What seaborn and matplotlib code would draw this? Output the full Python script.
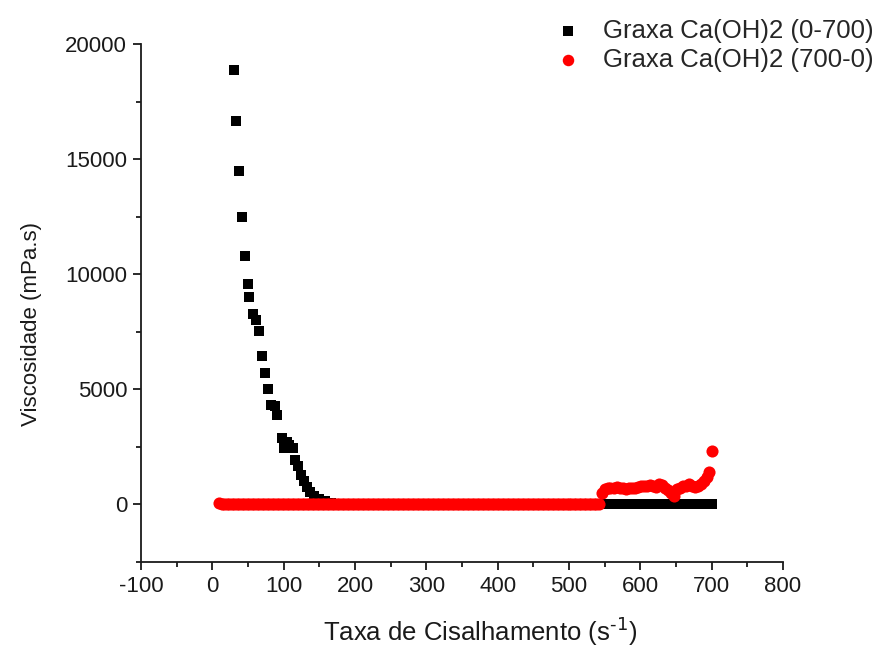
import matplotlib
matplotlib.use("Agg")
import matplotlib.pyplot as plt
import seaborn as sns
import pandas as pd
from matplotlib.ticker import MultipleLocator

# ---- data: Graxa Ca(OH)2 (0-700), upward ramp ----
up_x_steep = [30.4, 33.2, 37.4, 41.6, 45.8, 50.0, 52.0, 56.6, 61.3, 65.9, 70.1, 73.9,
              77.7, 81.9, 87.9, 91.1, 97.3, 101.0, 104.3, 107.5, 112.5, 116.0, 120.0,
              124.3, 128.6, 132.8, 137.0, 142.6, 149.6, 158.0, 166.5]
up_y_steep = [18870, 16660, 14490, 12490, 10800, 9590, 9020, 8290, 7990, 7520, 6430, 5730,
              5030, 4340, 4260, 3900, 2900, 2450, 2700, 2600, 2470, 1950, 1650,
              1300, 1000, 740, 520, 350, 220, 130, 80]
up_x_flat = [175, 182, 189, 196, 203, 210, 217, 224, 231, 238, 245, 252, 259, 266, 273,
             280, 287, 294, 301, 308, 315, 322, 329, 336, 343, 350, 357, 364, 371, 378,
             385, 392, 399, 406, 413, 420, 427, 434, 441, 448, 455, 462, 469, 476, 483,
             490, 497, 504, 511, 518, 525, 532, 539, 546, 553, 560, 567, 574, 581, 588,
             595, 602, 609, 616, 623, 630, 637, 644, 651, 658, 665, 672, 679, 686, 693, 700]
up_y_flat = [40, 30, 25, 22, 20, 18, 16, 15, 14, 14, 13, 13, 12, 12, 12,
             12, 11, 11, 11, 11, 11, 10, 10, 10, 10, 10, 10, 10, 10, 10,
             10, 10, 10, 10, 10, 10, 10, 10, 10, 10, 10, 10, 10, 10, 10,
             10, 10, 10, 10, 10, 10, 10, 10, 10, 10, 10, 10, 10, 10, 10,
             10, 10, 10, 10, 10, 10, 10, 10, 10, 10, 10, 10, 10, 10, 10, 10]

# ---- data: Graxa Ca(OH)2 (700-0), downward ramp ----
down_x_high = [700, 696, 693, 689, 685, 681, 677, 672, 668, 664, 660, 656, 651, 647,
               643, 639, 635, 630, 626, 622, 618, 614, 609, 605, 601, 597, 592, 588,
               584, 580, 575, 571, 567, 563, 558, 554, 550, 546]
down_y_high = [2300, 1400, 1200, 1000, 880, 800, 760, 820, 870, 780, 800, 720, 650, 350,
               500, 640, 700, 850, 900, 760, 800, 860, 820, 780, 800, 760, 720, 730,
               700, 650, 700, 720, 750, 700, 720, 700, 650, 500]
down_x_low = [542, 538.5, 535, 531.5, 528, 524.5, 521, 517.5, 514, 510.5, 507, 503.5, 500, 496.5, 493, 489.5, 486,
              482.5, 479, 475.5, 472, 468.5, 465, 461.5, 458, 454.5, 451, 447.5, 444, 440.5, 437, 433.5, 430, 426.5,
              423, 419.5, 416, 412.5, 409, 405.5, 402, 398.5, 395, 391.5, 388, 384.5, 381, 377.5, 374, 370.5, 367,
              363.5, 360, 356.5, 353, 349.5, 346, 342.5, 339, 335.5, 332, 328.5, 325, 321.5, 318, 314.5, 311, 307.5,
              304, 300.5, 297, 293.5, 290, 286.5, 283, 279.5, 276, 272.5, 269, 265.5, 262, 258.5, 255, 251.5, 248,
              244.5, 241, 237.5, 234, 230.5, 227, 223.5, 220, 216.5, 213, 209.5, 206, 202.5, 199, 195.5, 192, 188.5,
              185, 181.5, 178, 174.5, 171, 167.5, 164, 160.5, 157, 153.5, 150, 146.5, 143, 139.5, 136, 132.5, 129,
              125.5, 122, 118.5, 115, 111.5, 108, 104.5, 101, 97.5, 94, 90.5, 87, 83.5, 80, 76.5, 73, 69.5,
              66, 62.5, 59, 55.5, 52, 48.5, 45, 41.5, 38, 34.5, 31, 27.5, 24, 20.5, 17, 13.5, 10]
down_y_low = [30, 29, 28, 27, 27, 26, 26, 26, 25, 25, 25, 25, 25, 25, 25, 25, 25,
              25, 25, 25, 25, 24, 25, 25, 25, 25, 25, 25, 24, 25, 25, 25, 25, 25,
              25, 25, 25, 25, 25, 25, 24, 25, 25, 25, 25, 25, 25, 25, 25, 24, 25,
              25, 25, 25, 25, 25, 25, 25, 25, 25, 25, 25, 24, 25, 25, 25, 25, 25,
              25, 25, 25, 25, 25, 25, 25, 25, 25, 25, 25, 25, 25, 25, 25, 25, 25,
              25, 25, 25, 25, 25, 26, 26, 26, 26, 26, 26, 26, 26, 26, 26, 26, 26,
              26, 26, 26, 26, 27, 27, 27, 27, 27, 27, 27, 27, 28, 28, 28, 28, 28,
              28, 28, 28, 29, 29, 29, 29, 29, 29, 29, 29, 30, 30, 30, 30, 30, 30,
              30, 30, 31, 31, 32, 32, 33, 33, 34, 34, 35, 36, 37, 38, 39, 40, 42]

label_up = "Graxa Ca(OH)2 (0-700)"
label_down = "Graxa Ca(OH)2 (700-0)"

df_up = pd.DataFrame({"x": up_x_steep + up_x_flat, "y": up_y_steep + up_y_flat})
df_down = pd.DataFrame({"x": down_x_high + down_x_low, "y": down_y_high + down_y_low})

sns.set_theme(style="ticks")
plt.rcParams["font.family"] = ["Liberation Sans", "DejaVu Sans"]
plt.rcParams["axes.unicode_minus"] = False

ink = "#1a1a1a"
fig = plt.figure(figsize=(8.91, 6.46), dpi=100)
ax = fig.add_axes([141 / 891, 1 - 562 / 646, (783 - 141) / 891, (562 - 44) / 646])

sns.scatterplot(data=df_up, x="x", y="y", ax=ax, marker="s", color="black",
                s=58, linewidth=0, label=label_up, zorder=2)
sns.scatterplot(data=df_down, x="x", y="y", ax=ax, marker="o", color="#ff0000",
                s=76, linewidth=0, label=label_down, zorder=3)

ax.set_xlim(-100, 800)
ax.set_ylim(-2500, 20000)
ax.xaxis.set_major_locator(MultipleLocator(100))
ax.xaxis.set_minor_locator(MultipleLocator(50))
ax.yaxis.set_major_locator(MultipleLocator(5000))
ax.yaxis.set_minor_locator(MultipleLocator(2500))

for side in ["top", "right"]:
    ax.spines[side].set_visible(False)
for side in ["left", "bottom"]:
    ax.spines[side].set_linewidth(1.3)
    ax.spines[side].set_color(ink)

ax.tick_params(which="major", direction="out", length=6, width=1.3, labelsize=16,
               colors=ink, pad=4)
ax.tick_params(which="minor", direction="out", length=3.5, width=1.3, colors=ink)

ax.set_xlabel("Taxa de Cisalhamento (s$^{\\text{-}1}$)", fontsize=18.5, color=ink)
ax.set_ylabel("Viscosidade (mPa.s)", fontsize=16, color=ink)
ax.xaxis.set_label_coords((480 - 141) / 642, (562 - 614) / 518)
ax.yaxis.set_label_coords((42 - 141) / 642, (562 - 324) / 518)

ax.legend_.remove()
handles, labels = ax.get_legend_handles_labels()
fig.legend(handles, labels, loc="upper left", bbox_to_anchor=(555 / 891, 1 - 19 / 646),
           frameon=False, fontsize=18.5, handlelength=1.0, handletextpad=0.85,
           borderaxespad=0, borderpad=0, labelspacing=0.2, markerscale=0.95)

fig.savefig("out.png", dpi=100)
